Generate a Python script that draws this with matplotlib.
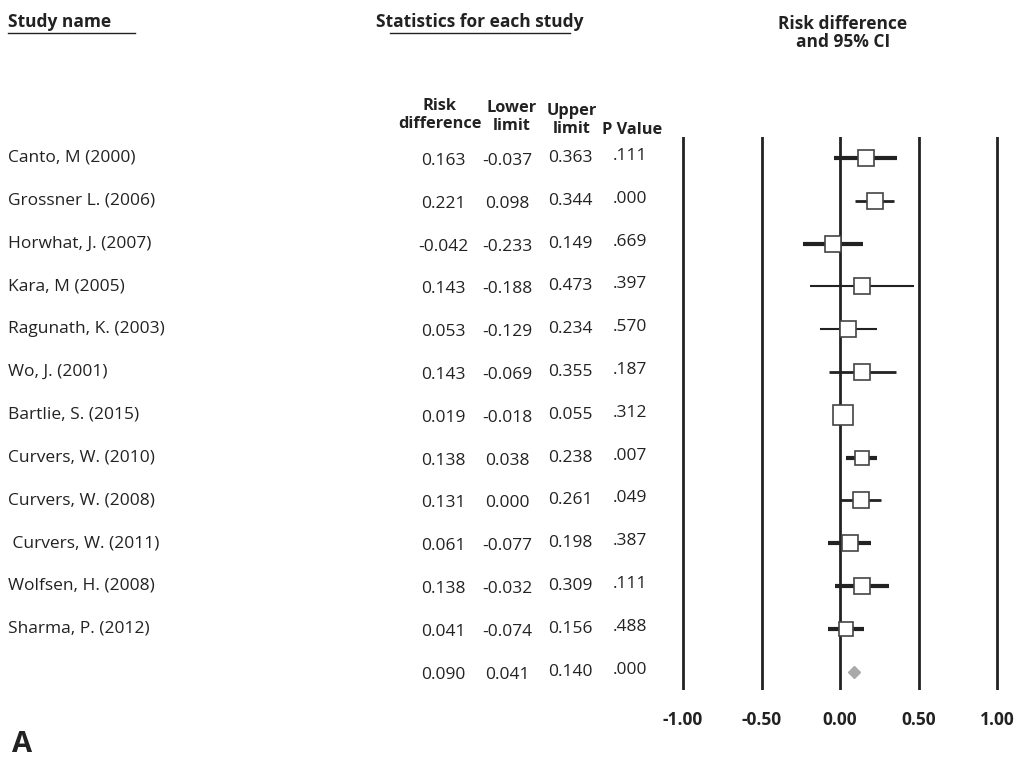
import matplotlib
matplotlib.use("Agg")
import matplotlib.pyplot as plt

studies = ["Canto, M (2000)", "Grossner L. (2006)", "Horwhat, J. (2007)", "Kara, M (2005)",
           "Ragunath, K. (2003)", "Wo, J. (2001)", "Bartlie, S. (2015)", "Curvers, W. (2010)",
           "Curvers, W. (2008)", " Curvers, W. (2011)", "Wolfsen, H. (2008)", "Sharma, P. (2012)", ""]
rd    = [0.163, 0.221, -0.042, 0.143, 0.053, 0.143, 0.019, 0.138, 0.131, 0.061, 0.138, 0.041, 0.090]
lower = [-0.037, 0.098, -0.233, -0.188, -0.129, -0.069, -0.018, 0.038, 0.000, -0.077, -0.032, -0.074, 0.041]
upper = [0.363, 0.344, 0.149, 0.473, 0.234, 0.355, 0.055, 0.238, 0.261, 0.198, 0.309, 0.156, 0.140]
pval  = [".111", ".000", ".669", ".397", ".570", ".187", ".312", ".007", ".049", ".387", ".111", ".488", ".000"]
box_size = [11, 11, 11, 11, 11, 11, 14, 10, 11, 11, 11, 10]
lw_ci = [3, 2, 3, 1.5, 1.5, 2, 1.5, 3, 2, 3, 3, 3]
ticks = [-1.0, -0.5, 0.0, 0.5, 1.0]

plt.rcParams['font.family'] = ['Open Sans', 'DejaVu Sans']
W, H = 1024, 762
fig = plt.figure(figsize=(W/100, H/100), dpi=100)

def px(x, y):
    return x / W, 1 - y / H

fs = 12.5
hfs = 11.8
c = "#222"
fig.text(*px(8, 22), "Study name", ha="left", va="center", fontsize=fs, fontweight="bold", color=c)
fig.text(*px(480, 22), "Statistics for each study", ha="center", va="center", fontsize=fs, fontweight="bold", color=c)
fig.add_artist(plt.Line2D([8/W, 135/W], [1-33/H, 1-33/H], color=c, lw=1))
fig.add_artist(plt.Line2D([390/W, 570/W], [1-33/H, 1-33/H], color=c, lw=1))
fig.text(*px(843, 33), "Risk difference\nand 95% CI", ha="center", va="center", fontsize=fs,
         fontweight="bold", color=c, linespacing=1.0)
fig.text(*px(440, 115), "Risk\ndifference", ha="center", va="center", fontsize=hfs, fontweight="bold", color=c, linespacing=1.2)
fig.text(*px(512, 117), "Lower\nlimit", ha="center", va="center", fontsize=hfs, fontweight="bold", color=c, linespacing=1.2)
fig.text(*px(572, 120), "Upper\nlimit", ha="center", va="center", fontsize=hfs, fontweight="bold", color=c, linespacing=1.2)
fig.text(*px(632, 130), "P Value", ha="center", va="center", fontsize=hfs, fontweight="bold", color=c)

y0, dy = 158, 42.8
for i in range(len(rd)):
    y = y0 + dy * i
    fig.text(*px(8, y), studies[i], ha="left", va="center", fontsize=fs, color=c)
    fig.text(*px(443, y + 3), f"{rd[i]:.3f}", ha="center", va="center", fontsize=fs, color=c)
    fig.text(*px(507, y + 3), f"{lower[i]:.3f}", ha="center", va="center", fontsize=fs, color=c)
    fig.text(*px(570, y), f"{upper[i]:.3f}", ha="center", va="center", fontsize=fs, color=c)
    fig.text(*px(630, y - 2), pval[i], ha="center", va="center", fontsize=fs, color=c)

# forest axes (x range -1.05..1.05 so the outer lines are not clipped)
L, R = 683 - 0.05 * 157, 997 + 0.05 * 157
ax = fig.add_axes([L/W, 1-690/H, (R-L)/W, (690-137)/H])
n = len(rd)
ax.set_xlim(-1.05, 1.05)
ax.set_ylim((690 - y0) / dy, (137 - y0) / dy)
for t in ticks:
    ax.axvline(t, color=c, lw=2)
for i in range(n - 1):
    ax.plot([lower[i], upper[i]], [i, i], color=c, lw=lw_ci[i], solid_capstyle="butt", zorder=2)
    ax.plot(rd[i], i, marker="s", ms=box_size[i], mfc="white", mec="#444", mew=1.2, zorder=3)
ax.plot(rd[-1], n - 1, marker="D", ms=6, mfc="#aaaaaa", mec="#aaaaaa", zorder=3)
ax.axis("off")

for t in ticks:
    fig.text(*px(683 + (t + 1) / 2 * 314, 720), f"{t:.2f}", ha="center", va="center",
             fontsize=fs, fontweight="bold", color=c)
fig.text(*px(12, 745), "A", ha="left", va="center", fontsize=21, fontweight="bold", color=c)

fig.savefig("out.png", dpi=100, facecolor="white")
